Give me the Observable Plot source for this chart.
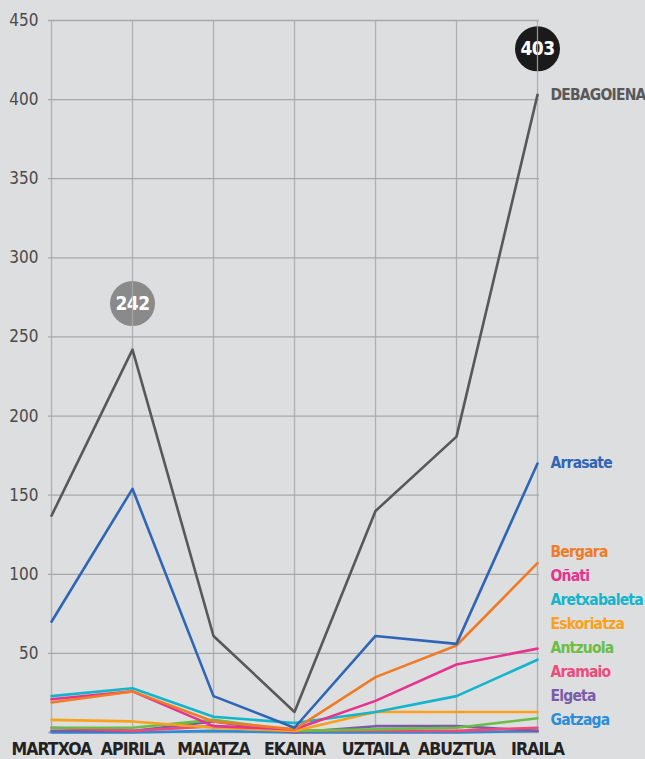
<!DOCTYPE html>
<html><head><meta charset="utf-8">
<script src="https://cdn.jsdelivr.net/npm/d3@7"></script>
<script src="https://cdn.jsdelivr.net/npm/@observablehq/plot@0.6"></script>
<style>
body{margin:0;background:#dddee0;}
#chart svg{display:block;}
#chart svg text{font-stretch:condensed;}
#chart svg g[font-size="15.5"] text{letter-spacing:-0.8px;}
#chart svg g[font-size="17.5"] text{letter-spacing:-0.9px;}
#chart svg g[font-size="19"] text{letter-spacing:-0.5px;}
</style>
</head><body><div id="chart"></div>
<script>
const months = ["MARTXOA","APIRILA","MAIATZA","EKAINA","UZTAILA","ABUZTUA","IRAILA"];
const seriesNames = ["DEBAGOIENA","Arrasate","Bergara","Oñati","Aretxabaleta","Eskoriatza","Antzuola","Aramaio","Elgeta","Gatzaga"];
const debagoiena   = [137,242,61,13,140,187,403];
const arrasate     = [70,154,23,3,61,56,170];
const bergara      = [19,26,7,2,35,55,107];
const onati        = [21,26,4,2,20,43,53];
const aretxabaleta = [23,28,10,6,13,23,46];
const eskoriatza   = [8,7,3,1,13,13,13];
const antzuola     = [3,3,8,1,2,3,9];
const aramaio      = [3,1,4,1,1,1,3];
const elgeta       = [1,1,7,0,4,4,1];
const gatzaga      = [0,0,1,0,0,0,1];
const seriesColors = ["#58585a","#2f65b5","#f07b25","#e6338f","#13b5cb","#f9a11b","#6abd45","#ec4b7c","#7a5ca8","#2a8dd5"];
const yTicks = [50,100,150,200,250,300,350,400,450];
const badgeIdx = [1,6];
const badgeFills = ["#8a8a8a","#1a1a1a"];

const seriesValues = [debagoiena,arrasate,bergara,onati,aretxabaleta,eskoriatza,antzuola,aramaio,elgeta,gatzaga];
const W = 645, H = 759, mL = 48, mR = 106, mT = 20, mB = 27;

const data = [];
for (let i = seriesNames.length - 1; i >= 0; i--) {
  months.forEach((m, j) => data.push({name: seriesNames[i], month: m, value: seriesValues[i][j], color: seriesColors[i]}));
}

// end labels, dodged upward from the bottom
const yPix = d3.scaleLinear([0,450],[H - mB, mT]);
const ends = seriesNames.map((n,i)=>({name:n, value: seriesValues[i][months.length-1], color: seriesColors[i], idx:i}))
  .sort((a,b)=> a.value - b.value || b.idx - a.idx);
let prev = null;
for (const e of ends) {
  const limit = prev === null ? (H - mB - 12) : prev - 24;
  const py = Math.min(yPix(e.value), limit);
  e.labelY = yPix.invert(py);
  prev = py;
}

const badges = badgeIdx.map((j,k)=>({month: months[j], value: debagoiena[j], fill: badgeFills[k]}));

const plot = Plot.plot({
  width: W, height: H,
  marginLeft: mL, marginRight: mR, marginTop: mT, marginBottom: mB,
  style: {background: "#dddee0", fontFamily: "'DejaVu Sans',sans-serif", overflow: "visible"},
  x: {type: "point", domain: months, padding: 0},
  y: {domain: [0,450]},
  color: {type: "identity"},
  marks: [
    Plot.ruleY([0, ...yTicks], {stroke: "#a8a8a8", strokeWidth: 1.3}),
    Plot.dot(badges, {x: "month", y: "value", r: 22.5, fill: "fill", dy: -46}),
    Plot.text(badges, {x: "month", y: "value", text: d => String(d.value), dy: -46, fill: "white", fontSize: 19, fontWeight: "bold"}),
    Plot.ruleX(months, {stroke: "#a8a8a8", strokeWidth: 1.3, strokeOpacity: 0.85}),
    Plot.line(data, {x: "month", y: "value", z: "name", stroke: "color", strokeWidth: 2.6, strokeLinejoin: "round"}),
    Plot.text(ends, {x: () => months[months.length-1], y: "labelY", text: "name", fill: "color", textAnchor: "start", dx: 13, fontSize: 15.5, fontWeight: "bold"}),
    Plot.axisY({ticks: yTicks, tickSize: 0, tickPadding: 10, fontSize: 17, fill: "#4a4a4a", label: null}),
    Plot.axisX({tickSize: 0, tickPadding: 10, fontSize: 17.5, fontWeight: "bold", fill: "#222", label: null})
  ]
});
document.getElementById("chart").appendChild(plot);
</script>
</body></html>
